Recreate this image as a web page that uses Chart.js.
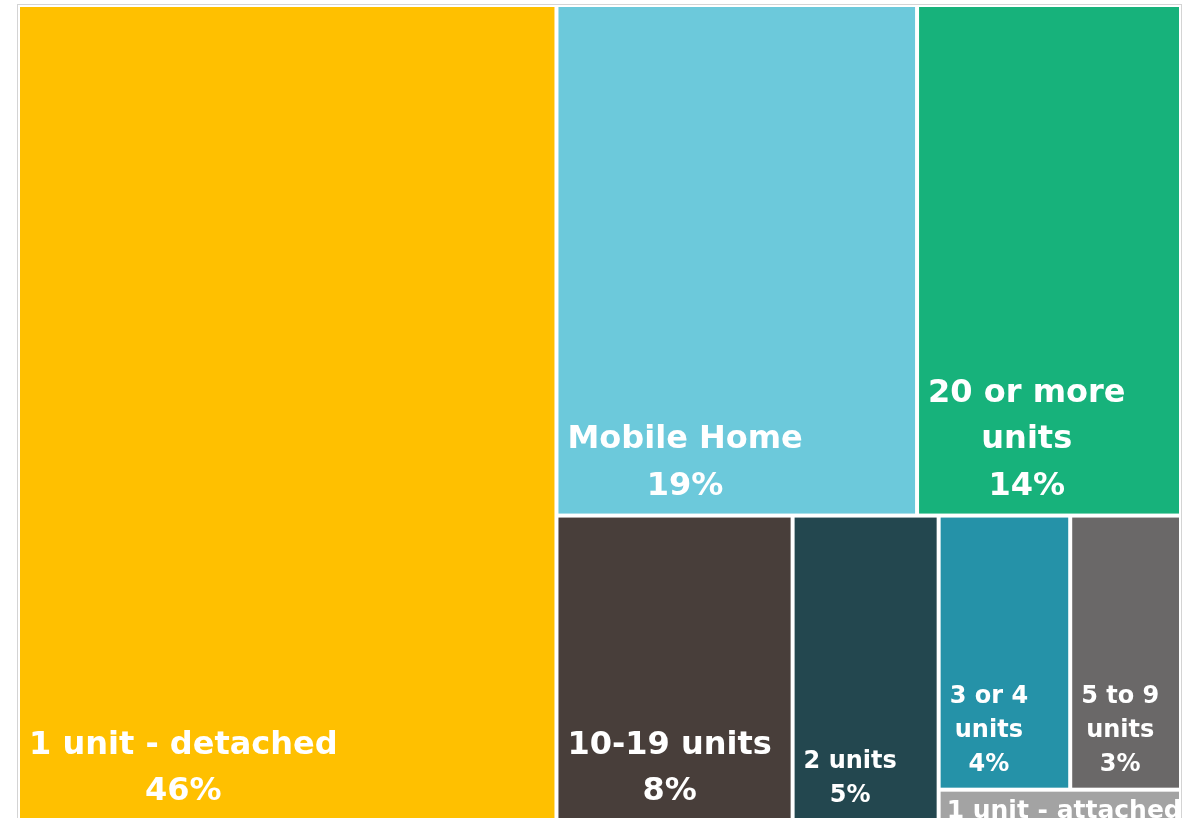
<!DOCTYPE html>
<html><head><meta charset="utf-8">
<script src="https://cdn.jsdelivr.net/npm/chart.js@4/dist/chart.umd.min.js"></script>
<style>html,body{margin:0;padding:0;background:#fff;overflow:hidden;width:1184px;height:818px}canvas{display:block}</style>
</head><body><canvas id="c" width="1184" height="822"></canvas>
<script>
// ---- data ----
const categories = ['1 unit - detached', 'Mobile Home', '20 or more units', '10-19 units', '2 units', '3 or 4 units', '5 to 9 units', '1 unit - attached'];
const shares = [46.3, 19.4, 14.2, 7.6, 4.7, 3.8, 3.2, 0.8];
// ---- styles ----
const colors = ['#FFC000', '#6CC9DB', '#17B27B', '#483E3A', '#23474F', '#2592A8', '#6A6868', '#A3A3A3'];
const labelSizes = [32, 32, 32, 32, 24, 24, 24, 25];
// ---- grouping structure of the treemap (indices into categories) ----
const groups = {dir: 'h', items: [0, {dir: 'v', items: [
  {dir: 'h', items: [1, 2]},
  {dir: 'h', items: [3, 4, {dir: 'v', items: [{dir: 'h', items: [5, 6]}, 7]}]}
]}]};

const total = shares.reduce((s, v) => s + v, 0);
function nodeSum(n) { return typeof n === 'number' ? shares[n] : n.items.reduce((s, c) => s + nodeSum(c), 0); }
function layout(n, x0, y0, x1, y1, out) {
  if (typeof n === 'number') { out[n] = {x0, y0, x1, y1}; return; }
  const s = nodeSum(n);
  let pos = n.dir === 'h' ? x0 : y0;
  n.items.forEach(c => {
    const f = nodeSum(c) / s;
    if (n.dir === 'h') { const w = (x1 - x0) * f; layout(c, pos, y0, pos + w, y1, out); pos += w; }
    else { const h = (y1 - y0) * f; layout(c, x0, pos, x1, pos + h, out); pos += h; }
  });
}

function wrap(ctx, text, maxW) {
  const words = text.split(' ');
  const lines = [];
  let cur = '';
  words.forEach(w => {
    const t = cur ? cur + ' ' + w : w;
    if (cur && ctx.measureText(t).width > maxW) { lines.push(cur); cur = w; }
    else cur = t;
  });
  if (cur) lines.push(cur);
  return lines;
}

const treemapPlugin = {
  id: 'treemap',
  afterDatasetsDraw(chart) {
    const {ctx, chartArea: a} = chart;
    const x = chart.scales.x, y = chart.scales.y;
    ctx.save();
    ctx.strokeStyle = '#D4D4D4'; ctx.lineWidth = 1;
    ctx.strokeRect(a.left - 0.5, a.top - 0.5, a.right - a.left + 1, a.bottom - a.top + 20);
    const rects = [];
    layout(groups, 0, 0, 1, 1, rects);
    rects.forEach((r, i) => {
      const px0 = x.getPixelForValue(r.x0) + 2, px1 = x.getPixelForValue(r.x1) - 2;
      const py0 = y.getPixelForValue(r.y0) + 2, py1 = y.getPixelForValue(r.y1) - 2;
      const w = px1 - px0, h = py1 - py0;
      ctx.fillStyle = colors[i];
      ctx.fillRect(px0, py0, w, h);
      // label
      const size = labelSizes[i];
      ctx.font = 'bold ' + size + 'px "DejaVu Sans"';
      const pad = 9;
      const lh = size * (size > 28 ? 1.44 : 1.42);
      let lines = wrap(ctx, categories[i], w - 2 * pad);
      lines.push(Math.round(shares[i] / total * 100) + '%');
      const overflow = lines.length * lh + 10 > h;
      if (overflow) lines = [categories[i], Math.round(shares[i] / total * 100) + '%'];
      const bw = Math.max(...lines.map(l => ctx.measureText(l).width));
      const cx = overflow ? px0 + 6 + ctx.measureText(lines[0]).width / 2 : px0 + pad + bw / 2;
      ctx.save();
      ctx.beginPath(); ctx.rect(px0, py0, w, h); ctx.clip();
      ctx.fillStyle = '#FFFFFF';
      ctx.textAlign = 'center';
      ctx.textBaseline = 'alphabetic';
      let firstBase;
      if (overflow) firstBase = py0 + 4 + size * 0.9;
      else firstBase = py1 - (size > 28 ? 19 : 17) - (lines.length - 1) * lh;
      lines.forEach((l, k) => ctx.fillText(l, cx, firstBase + k * lh));
      ctx.restore();
    });
    ctx.restore();
  }
};

new Chart(document.getElementById('c'), {
  type: 'scatter',
  data: {datasets: [{data: []}]},
  options: {
    responsive: false,
    animation: false,
    layout: {padding: {left: 18, top: 5, right: 3, bottom: 1}},
    plugins: {legend: {display: false}, tooltip: {enabled: false}},
    scales: {
      x: {type: 'linear', min: 0, max: 1, display: false},
      y: {type: 'linear', min: 0, max: 1, reverse: true, display: false}
    }
  },
  plugins: [treemapPlugin]
});
</script>
</body></html>
